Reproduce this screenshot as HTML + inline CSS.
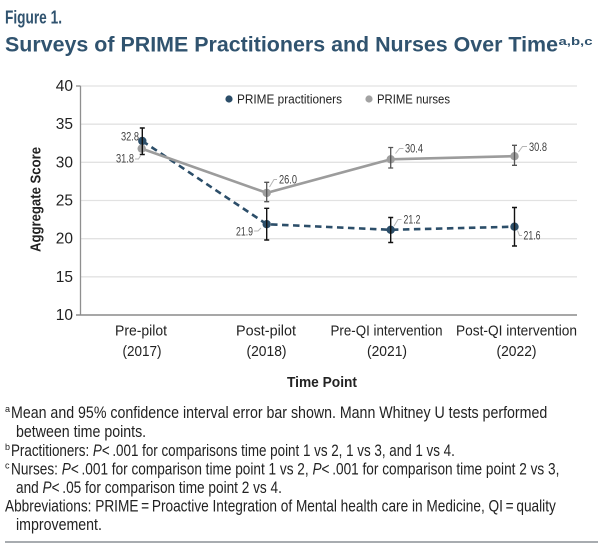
<!DOCTYPE html>
<html>
<head>
<meta charset="utf-8">
<style>
  html,body{margin:0;padding:0;background:#fff;}
  svg{display:block;}
  text{font-family:"Liberation Sans",sans-serif;}
</style>
</head>
<body>
<svg width="604" height="546" viewBox="0 0 604 546" xmlns="http://www.w3.org/2000/svg">
  <rect width="604" height="546" fill="#fff"/>

  <!-- Title -->
  <text x="5" y="23.5" font-size="18" font-weight="bold" fill="#30536f" textLength="57" lengthAdjust="spacingAndGlyphs">Figure 1.</text>
  <text x="5" y="51.5" font-size="21" font-weight="bold" fill="#30536f" textLength="553" lengthAdjust="spacingAndGlyphs">Surveys of PRIME Practitioners and Nurses Over Time</text>
  <text x="558.5" y="45" font-size="11" font-weight="bold" fill="#30536f" textLength="34" lengthAdjust="spacingAndGlyphs">a,b,c</text>

  <!-- Gridlines -->
  <g stroke="#e2e2e2" stroke-width="1.3">
    <line x1="80" y1="86" x2="577" y2="86"/>
    <line x1="80" y1="124.2" x2="577" y2="124.2"/>
    <line x1="80" y1="162.3" x2="577" y2="162.3"/>
    <line x1="80" y1="200.5" x2="577" y2="200.5"/>
    <line x1="80" y1="238.7" x2="577" y2="238.7"/>
    <line x1="80" y1="276.8" x2="577" y2="276.8"/>
  </g>
  <!-- Axes -->
  <line x1="80.5" y1="86" x2="80.5" y2="315" stroke="#8f8f8f" stroke-width="1.3"/>
  <line x1="76" y1="315" x2="577" y2="315" stroke="#8a8a8a" stroke-width="1.5"/>
  <line x1="76" y1="86" x2="80.5" y2="86" stroke="#8f8f8f" stroke-width="1.3"/>

  <!-- Y tick labels -->
  <g font-size="15.5" fill="#222" text-anchor="end">
    <text x="73" y="91">40</text>
    <text x="73" y="129.2">35</text>
    <text x="73" y="167.3">30</text>
    <text x="73" y="205.5">25</text>
    <text x="73" y="243.7">20</text>
    <text x="73" y="281.8">15</text>
    <text x="73" y="320">10</text>
  </g>

  <!-- Y axis title -->
  <text transform="translate(40.5,199.5) rotate(-90)" x="0" y="0" font-size="15" font-weight="bold" fill="#222" text-anchor="middle" textLength="105" lengthAdjust="spacingAndGlyphs">Aggregate Score</text>

  <!-- X labels -->
  <g font-size="15" fill="#222" text-anchor="middle">
    <text x="141" y="335.5" textLength="52" lengthAdjust="spacingAndGlyphs">Pre-pilot</text>
    <text x="142" y="356" textLength="39" lengthAdjust="spacingAndGlyphs">(2017)</text>
    <text x="266" y="335.5" textLength="60" lengthAdjust="spacingAndGlyphs">Post-pilot</text>
    <text x="266.5" y="356" textLength="40" lengthAdjust="spacingAndGlyphs">(2018)</text>
    <text x="386.5" y="335.5" textLength="112" lengthAdjust="spacingAndGlyphs">Pre-QI intervention</text>
    <text x="387" y="356" textLength="40" lengthAdjust="spacingAndGlyphs">(2021)</text>
    <text x="516.5" y="335.5" textLength="121" lengthAdjust="spacingAndGlyphs">Post-QI intervention</text>
    <text x="516.5" y="356" textLength="40" lengthAdjust="spacingAndGlyphs">(2022)</text>
  </g>
  <text x="322" y="387" font-size="15" font-weight="bold" fill="#222" text-anchor="middle" textLength="70" lengthAdjust="spacingAndGlyphs">Time Point</text>

  <!-- Legend -->
  <circle cx="229" cy="99" r="3.6" fill="#2c4e69"/>
  <text x="237" y="103.5" font-size="13" fill="#222" textLength="105" lengthAdjust="spacingAndGlyphs">PRIME practitioners</text>
  <circle cx="369" cy="99" r="3.6" fill="#a2a2a2"/>
  <text x="377" y="103.5" font-size="13" fill="#222" textLength="73" lengthAdjust="spacingAndGlyphs">PRIME nurses</text>

  <!-- Practitioners series (dashed) -->
  <polyline points="142.3,141 266.7,224.2 390.7,229.8 514.5,226.7" fill="none" stroke="#2c4e69" stroke-width="2.6" stroke-dasharray="6.5,4.5"/>
  <!-- Nurses series (solid) -->
  <polyline points="141.7,148.6 266.7,192.9 390.7,159.3 514.5,156.2" fill="none" stroke="#9c9c9c" stroke-width="2.6"/>

  <!-- Markers -->
  <g fill="#2c4e69">
    <circle cx="142.3" cy="141" r="4.2"/>
    <circle cx="266.7" cy="224.2" r="4.2"/>
    <circle cx="390.7" cy="229.8" r="4.2"/>
    <circle cx="514.5" cy="226.7" r="4.2"/>
  </g>
  <g fill="#9e9e9e">
    <circle cx="141.7" cy="148.6" r="4.2"/>
    <circle cx="266.7" cy="192.9" r="4.2"/>
    <circle cx="390.7" cy="159.3" r="4.2"/>
    <circle cx="514.5" cy="156.2" r="4.2"/>
  </g>

  <!-- Error bars: practitioners -->
  <g stroke="#111" stroke-width="1.4" fill="none">
    <path d="M142.3,128 V154.5 M139.8,128 H144.8 M139.8,154.5 H144.8"/>
    <path d="M266.7,208.3 V240 M264.2,208.3 H269.2 M264.2,240 H269.2"/>
    <path d="M390.7,217.5 V242.5 M388.2,217.5 H393.2 M388.2,242.5 H393.2"/>
    <path d="M514.5,207.5 V246 M512,207.5 H517 M512,246 H517"/>
  </g>
  <!-- Error bars: nurses -->
  <g stroke="#555" stroke-width="1.3" fill="none">
    <path d="M266.7,182.3 V201.7 M264.2,182.3 H269.2 M264.2,201.7 H269.2"/>
    <path d="M390.7,147.5 V168 M388.2,147.5 H393.2 M388.2,168 H393.2"/>
    <path d="M514.5,145.3 V165.3 M512,145.3 H517 M512,165.3 H517"/>
  </g>

  <!-- Leader lines -->
  <g stroke="#b5b5b5" stroke-width="1" fill="none">
    <polyline points="135,159 138.5,159 141,155"/>
    <polyline points="269.5,187 274,179.5 277,179.5"/>
    <polyline points="254,231 258,231 261,228"/>
    <polyline points="395.5,153.5 399.5,148.5 403.5,148.5"/>
    <polyline points="394,226 398,219.5 401.5,219.5"/>
    <polyline points="518.5,152 522.5,146.5 527,146.5"/>
    <polyline points="517.5,230.5 519.5,235.5 522,235.5"/>
  </g>

  <!-- Data labels -->
  <g font-size="12" fill="#404040">
    <text x="121" y="140.5" textLength="18" lengthAdjust="spacingAndGlyphs">32.8</text>
    <text x="116" y="162.5" textLength="18" lengthAdjust="spacingAndGlyphs">31.8</text>
    <text x="279" y="183.5" textLength="18" lengthAdjust="spacingAndGlyphs">26.0</text>
    <text x="236" y="235.5" textLength="17" lengthAdjust="spacingAndGlyphs">21.9</text>
    <text x="405" y="152.5" textLength="18" lengthAdjust="spacingAndGlyphs">30.4</text>
    <text x="403.5" y="223.5" textLength="17" lengthAdjust="spacingAndGlyphs">21.2</text>
    <text x="529" y="151" textLength="18" lengthAdjust="spacingAndGlyphs">30.8</text>
    <text x="523.5" y="239.5" textLength="17" lengthAdjust="spacingAndGlyphs">21.6</text>
  </g>

  <!-- Footnotes (each line condensed individually) -->
  <g font-size="16.5" fill="#222">
    <text x="5" y="412" font-size="9">a</text>
    <text transform="translate(11,0) scale(0.861,1)" x="0" y="418">Mean and 95% confidence interval error bar shown. Mann Whitney U tests performed</text>
    <text transform="translate(16,0) scale(0.861,1)" x="0" y="437">between time points.</text>
    <text x="5" y="450" font-size="9">b</text>
    <text transform="translate(11,0) scale(0.813,1)" x="0" y="456">Practitioners: <tspan font-style="italic">P</tspan>&lt;&#8201;.001 for comparisons time point 1 vs 2, 1 vs 3, and 1 vs 4.</text>
    <text x="5" y="468.5" font-size="9">c</text>
    <text transform="translate(11,0) scale(0.826,1)" x="0" y="474.5">Nurses: <tspan font-style="italic">P</tspan>&lt;&#8201;.001 for comparison time point 1 vs 2, <tspan font-style="italic">P</tspan>&lt;&#8201;.001 for comparison time point 2 vs 3,</text>
    <text transform="translate(16,0) scale(0.826,1)" x="0" y="493">and <tspan font-style="italic">P</tspan>&lt;&#8201;.05 for comparison time point 2 vs 4.</text>
    <text transform="translate(5,0) scale(0.828,1)" x="0" y="511.5">Abbreviations: PRIME&#8201;=&#8201;Proactive Integration of Mental health care in Medicine, QI&#8201;=&#8201;quality</text>
    <text transform="translate(16,0) scale(0.861,1)" x="0" y="530">improvement.</text>
  </g>
  <line x1="5" y1="542" x2="598" y2="542" stroke="#8c9196" stroke-width="1.6"/>
</svg>
</body>
</html>
